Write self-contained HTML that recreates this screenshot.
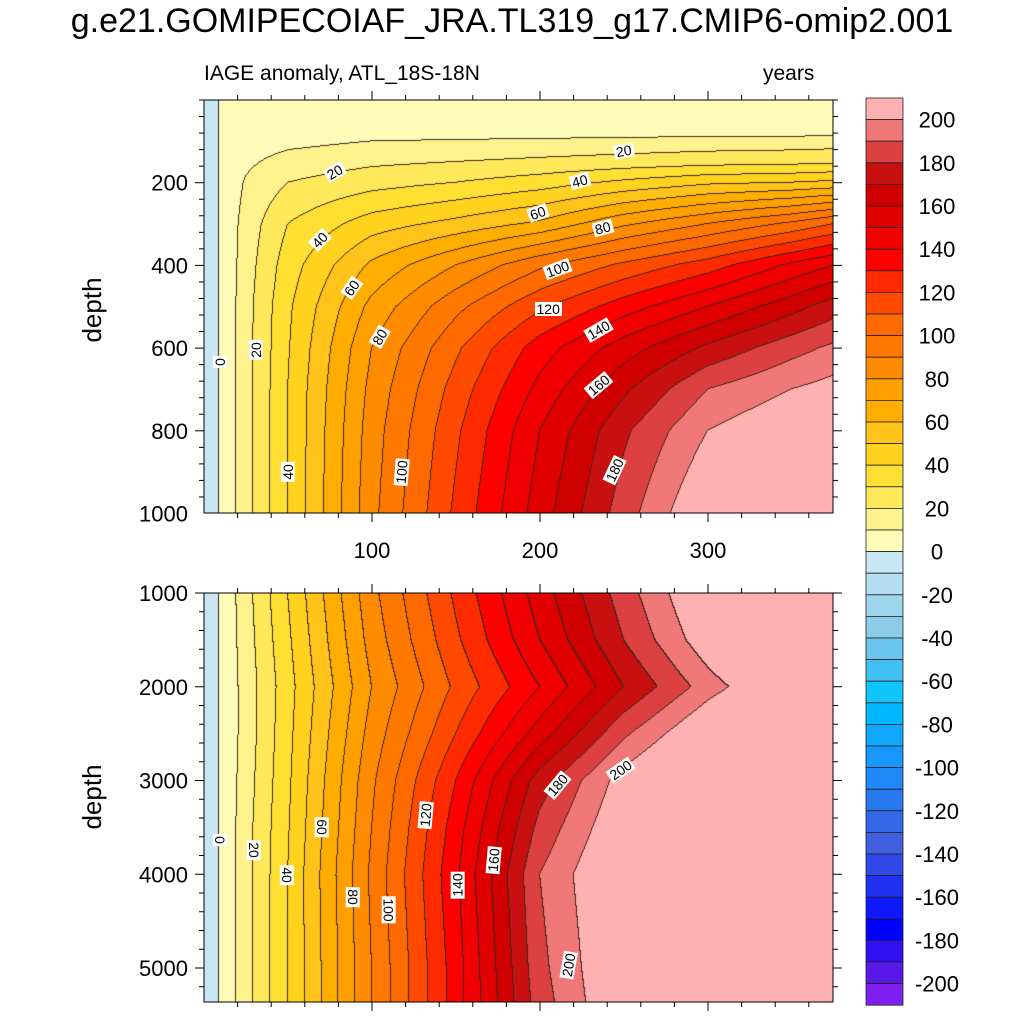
<!DOCTYPE html>
<html><head><meta charset="utf-8">
<style>
body{margin:0;background:#fff;width:1024px;height:1024px;position:relative;overflow:hidden;font-family:"Liberation Sans",sans-serif;}
canvas{position:absolute;}
.t{position:absolute;white-space:nowrap;color:#000;}
.cl{position:absolute;background:#fff;font-size:14px;line-height:14px;padding:0 2px;transform-origin:center;}
</style></head><body>
<div class="t" style="left:0;width:1024px;text-align:center;top:2px;font-size:34px;">g.e21.GOMIPECOIAF_JRA.TL319_g17.CMIP6-omip2.001</div>
<div class="t" style="left:204px;top:62px;font-size:21px;">IAGE anomaly, ATL_18S-18N</div>
<div class="t" style="left:763px;top:62px;font-size:21px;">years</div>
<canvas id="ctop" width="629" height="413" style="left:204px;top:100px"></canvas>
<canvas id="cbot" width="629" height="409" style="left:204px;top:593px"></canvas>
<svg id="ax" width="1024" height="1024" style="position:absolute;left:0;top:0"></svg>
<div id="labels"></div>
<script>
const times=[0,10,25,50,100,150,200,250,300,350,375];
const topDepths=[0,80,100,150,200,300,400,500,600,700,800,1000];
const topAge=[
[-5,0.5,3,3,3,4,4,5,5,5,5],
[-5,0.5,2,3,4,5,5,6,6,6.5,7],
[-5,0.5,4,7,10,11,12,13,14,14.5,15],
[-5,0.5,8,14,18,20,22,24,26,27,28],
[-5,0.5,11,20,26,30,35,42,48,50,52],
[-5,0.5,14,30,45,53,62,78,90,102,110],
[-5,0.5,15,35,62,80,98,112,125,142,150],
[-5,0.5,16,38,73,97,118,135,150,166,175],
[-5,0.5,16,39,80,108,135,155,172,186,192],
[-5,0.5,16,40,83,114,143,168,190,200,204],
[-5,0.5,16,40,85,118,150,178,200,210,215],
[-5,0.5,16,40,87,122,155,185,212,222,225]];
const botDepths=[1000,1500,2000,2500,3000,3500,4000,5000,5400];
const botAge=[
[-5,0.5,16,40,87,122,155,185,213,225,230],
[-5,0.5,15,38,84,118,150,180,207,232,245],
[-5,0.5,14,36,80,112,140,170,195,215,225],
[-5,0.5,14,37,84,120,155,188,212,228,238],
[-5,0.5,15,38,88,130,175,205,225,240,250],
[-5,0.5,16,39,90,135,183,210,228,242,250],
[-5,0.5,16,40,92,138,190,215,230,245,250],
[-5,0.5,16,40,90,135,187,213,228,240,250],
[-5,0.5,16,40,90,135,185,212,228,240,250]];
const posColors=['#fffbb8','#fff28c','#ffe85a','#ffdf32','#ffd21e','#ffc31a','#ffae00','#ffa000','#ff8c00','#ff7800','#ff6a00','#ff4a00','#ff2a00','#ff0000','#f00000','#e00000','#d00000','#c81010','#dc4040','#f07878','#ffb0b0'];
const negColors=['#c8e6f4','#b4def2','#9ed4ec','#8ccbe8','#6ac6ee','#40c0f4','#10c4fc','#00b8ff','#10a8ff','#1898ff','#2088f8','#2878f0','#3468e8','#4060e0','#3048e8','#2030f0','#1018ff','#0000ff','#3010f0','#5818e8','#8020f0'];
const xTicks=[100,200,300];
const topYTicks=[200,400,600,800,1000];
const botYTicks=[1000,2000,3000,4000,5000];
const cbLabels=[200,180,160,140,120,100,80,60,40,20,0,-20,-40,-60,-80,-100,-120,-140,-160,-180,-200];

const X0=204,X1=833,pxPerYear=1.68;
const xs=t=>X0+t*pxPerYear;
const topY=d=>100+d*0.4135;
const botY=d=>593+(d-1000)*0.09375;

function seg(arr,v){let i=0;while(i<arr.length-2&&v>arr[i+1])i++;let f=(v-arr[i])/(arr[i+1]-arr[i]);f=Math.max(0,Math.min(1,f));return [i,f];}
function sample(depths,grid,t,d){const [i,f]=seg(times,t);const [j,g]=seg(depths,d);
 const a=grid[j][i]*(1-f)+grid[j][i+1]*f;const b=grid[j+1][i]*(1-f)+grid[j+1][i+1]*f;return a*(1-g)+b*g;}
function lvl(v){return Math.max(-21,Math.min(20,Math.floor(v/10)));}
function col(k){return k>=0?posColors[k]:negColors[-k-1];}
function hex(c){return [parseInt(c.substr(1,2),16),parseInt(c.substr(3,2),16),parseInt(c.substr(5,2),16)];}
function render(id,depths,grid,d0,d1){
 const cv=document.getElementById(id),ctx=cv.getContext('2d'),W=cv.width,H=cv.height;
 const L=new Int8Array(W*H);
 for(let y=0;y<H;y++){const d=d0+(y+0.5)/H*(d1-d0);for(let x=0;x<W;x++){L[y*W+x]=lvl(sample(depths,grid,(x+0.5)/pxPerYear,d));}}
 const img=ctx.createImageData(W,H);const cache={};
 for(let p=0;p<W*H;p++){const k=L[p];let c=cache[k]||(cache[k]=hex(col(k)));
  const x=p%W,y=(p/W)|0;let line=false;
  if(x<W-1&&L[p+1]!==k)line=true;if(y<H-1&&L[p+W]!==k)line=true;
  if(line)c=[60,40,30];
  img.data[p*4]=c[0];img.data[p*4+1]=c[1];img.data[p*4+2]=c[2];img.data[p*4+3]=255;}
 ctx.putImageData(img,0,0);
}
render('ctop',topDepths,topAge,0,1000);
render('cbot',botDepths,botAge,1000,5363);

const NS='http://www.w3.org/2000/svg';const svg=document.getElementById('ax');
function el(tag,attrs,parent){const e=document.createElementNS(NS,tag);for(const k in attrs)e.setAttribute(k,attrs[k]);(parent||svg).appendChild(e);return e;}
function line(x1,y1,x2,y2){const e=el('line',{x1,y1,x2,y2,stroke:'#000','stroke-width':1});}
function txt(x,y,s,anchor,size,name){const e=el('text',{x,y,'text-anchor':anchor,'font-size':size,'font-family':'Liberation Sans, sans-serif'});e.textContent=s;return e;}
function panel(yt,yb,ymap,yticks,ymin,ymax,minorStep,showX,pname){
 const r=el('rect',{x:X0,y:yt,width:X1-X0,height:yb-yt,fill:'none',stroke:'#000','stroke-width':1});
 
 for(let t=20;t<374;t+=20){const x=xs(t),len=(t%100===0)?9:5;line(x,yb,x,yb+len);line(x,yt,x,yt-len);}
 for(let d=ymin;d<=ymax;d+=minorStep){const y=ymap(d);if(y<yt||y>yb)continue;const len=yticks.includes(d)?9:5;line(X0,y,X0-len,y);line(X1,y,X1+len,y);}
 yticks.forEach(d=>txt(X0-16,ymap(d)+8,String(d),'end',22,pname+'-y-tick-label'));
 if(showX)xTicks.forEach(t=>txt(xs(t),558,String(t),'middle',22,'x-tick-label'));
}
panel(100,513,topY,topYTicks,0,1000,40,true,'top-panel');
panel(593,1002,botY,botYTicks,1000,5400,200,false,'bottom-panel');
const yt1=txt(0,0,'depth','middle',26,'top-y-axis-title');yt1.setAttribute('transform','translate(101,310) rotate(-90)');
const yt2=txt(0,0,'depth','middle',26,'bottom-y-axis-title');yt2.setAttribute('transform','translate(101,797) rotate(-90)');
// colorbar
const cbTop=98,cbStep=21.6,cbX=866,cbW=37;
const allCols=posColors.slice().reverse().concat(negColors);
allCols.forEach((c,i)=>{const r=el('rect',{x:cbX,y:cbTop+i*cbStep,width:cbW,height:cbStep,fill:c,stroke:'#222','stroke-width':0.8});
 });
cbLabels.forEach((v,i)=>txt(937,cbTop+(1+2*i)*cbStep+8,String(v),'middle',22,'colorbar-label'));

const contourLabels=[
['20',335,172,-30],['40',580,181,-15],['60',538,213,-20],['80',603,228,-15],['100',557,269,-20],['120',548,309,0],
['140',598,330,-30],['160',598,385,-40],['180',614,470,-65],['40',320,240,-45],['60',352,288,-55],['80',380,337,-60],
['20',256,350,-90],['0',220,362,-90],['40',288,472,-90],['100',401,472,-85],['20',624,151,-10],
['0',220,840,90],['20',254,850,90],['40',287,875,90],['60',322,827,90],['80',353,897,90],['100',388,910,90],
['120',425,815,-85],['140',457,885,-90],['160',493,860,-85],['180',557,785,-50],['200',620,770,-35],['200',568,965,-80]];
const lab=document.getElementById('labels');
contourLabels.forEach(([s,x,y,a])=>{const d=document.createElement('div');d.className='cl';d.textContent=s;
 
 
 lab.appendChild(d);const w=d.offsetWidth,h=d.offsetHeight;d.style.left=(x-w/2)+'px';d.style.top=(y-h/2)+'px';d.style.transform='rotate('+a+'deg)';});
</script>
</body></html>
